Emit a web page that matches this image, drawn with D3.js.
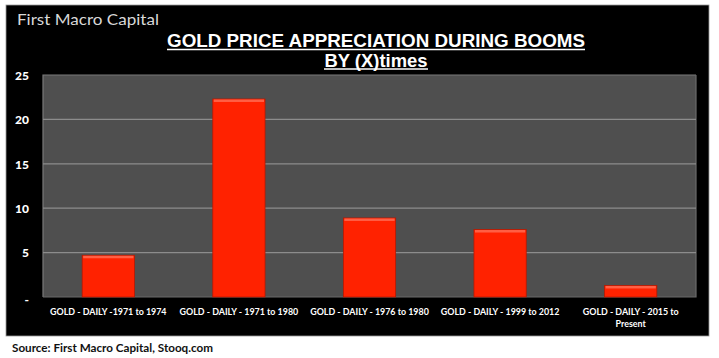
<!DOCTYPE html>
<html><head><meta charset="utf-8">
<script src="https://cdn.jsdelivr.net/npm/d3@7"></script>
<style>
html,body{margin:0;padding:0;background:#fff;}
svg{display:block;}
</style></head>
<body>
<script>
const categories = [
  ["GOLD - DAILY -1971 to 1974"],
  ["GOLD - DAILY - 1971 to 1980"],
  ["GOLD - DAILY - 1976 to 1980"],
  ["GOLD - DAILY - 1999 to 2012"],
  ["GOLD - DAILY - 2015 to", "Present"]
];
const values = [4.7, 22.3, 8.9, 7.6, 1.3];
const yTicks = [0, 5, 10, 15, 20, 25];
const yTickLabels = ["-", "5", "10", "15", "20", "25"];
const titleLines = ["GOLD PRICE APPRECIATION DURING BOOMS", "BY (X)times"];
const brand = "First Macro Capital";
const source = "Source: First Macro Capital, Stooq.com";

const W = 719, H = 358;
const svg = d3.select("body").append("svg").attr("width", W).attr("height", H);

// black panel
svg.append("rect").attr("x", 6).attr("y", 5).attr("width", 703).attr("height", 331)
  .attr("fill", "#000").attr("stroke", "#9a9a9a").attr("stroke-width", 0.8);

const plot = {left: 43, right: 696, top: 75, bottom: 297};
const x = d3.scaleBand().domain(d3.range(categories.length)).range([plot.left, plot.right]).padding(0);
const y = d3.scaleLinear().domain([0, 25]).range([plot.bottom, plot.top]);

// plot background
svg.append("rect").attr("x", plot.left).attr("y", plot.top)
  .attr("width", plot.right - plot.left).attr("height", plot.bottom - plot.top)
  .attr("fill", "#4f4f4f");
svg.append("path").attr("d", `M${plot.left},${plot.bottom}V${plot.top}H${plot.right}`)
  .attr("fill", "none").attr("stroke", "#7a7a7a").attr("stroke-width", 1.2);
svg.append("path").attr("d", `M${plot.left},${plot.bottom}H${plot.right}V${plot.top}`)
  .attr("fill", "none").attr("stroke", "#6a6a6a").attr("stroke-width", 1.2);

// gridlines
svg.append("g").selectAll("line").data(yTicks.filter(d => d > 0 && d < 25)).join("line")
  .attr("x1", plot.left).attr("x2", plot.right)
  .attr("y1", d => y(d)).attr("y2", d => y(d))
  .attr("stroke", "#8c8c8c").attr("stroke-width", 1.2);

// y axis
const yAxis = d3.axisLeft(y).tickValues(yTicks).tickFormat((d, i) => yTickLabels[i]).tickSize(0).tickPadding(0);
const gy = svg.append("g").attr("transform", `translate(29,0)`).call(yAxis);
gy.select(".domain").remove();
gy.selectAll("text").attr("fill", "#fff").attr("font-family", "Lato, 'Open Sans', sans-serif")
  .attr("font-weight", "900").attr("font-size", 12)
  .attr("dy", (d) => d === 0 ? "0.55em" : "0.35em");

// bars
const bw = x.bandwidth() * 0.4;
const bars = svg.append("g").selectAll("g").data(values).join("g");
bars.append("rect")
  .attr("x", (d, i) => x(i) + (x.bandwidth() - bw) / 2)
  .attr("y", d => y(d))
  .attr("width", bw).attr("height", d => y(0) - y(d))
  .attr("fill", "#ff2200").attr("stroke", "#b81800").attr("stroke-width", 0.8);
bars.append("rect")
  .attr("x", (d, i) => x(i) + (x.bandwidth() - bw) / 2 + 1)
  .attr("y", d => y(d) + 0.5)
  .attr("width", bw - 2).attr("height", 2.5)
  .attr("fill", "#ff6a50").attr("opacity", 0.85);

// x labels
const xl = svg.append("g");
categories.forEach((lines, i) => {
  const t = xl.append("text").attr("x", x(i) + x.bandwidth() / 2).attr("y", 315)
    .attr("text-anchor", "middle").attr("fill", "#fff")
    .attr("font-family", "Lato, 'Open Sans', sans-serif").attr("font-weight", "bold").attr("font-size", 8.9);
  lines.forEach((l, j) => t.append("tspan").attr("x", x(i) + x.bandwidth() / 2).attr("dy", j === 0 ? 0 : 12).text(l));
});

// title
const tg = svg.append("g").attr("fill", "#fff").attr("font-family", "Arial, 'Liberation Sans', sans-serif").attr("font-weight", "bold");
tg.append("text").attr("x", 376).attr("y", 47).attr("text-anchor", "middle").attr("font-size", 18.5)
  .attr("textLength", 418).attr("lengthAdjust", "spacingAndGlyphs").text(titleLines[0]);
tg.append("text").attr("x", 376).attr("y", 66.5).attr("text-anchor", "middle").attr("font-size", 18.5)
  .attr("textLength", 103).attr("lengthAdjust", "spacingAndGlyphs").text(titleLines[1]);
[[167, 585, 49.5], [324, 428, 69]].forEach(([a, b, yy]) =>
  svg.append("line").attr("x1", a).attr("x2", b).attr("y1", yy).attr("y2", yy).attr("stroke", "#fff").attr("stroke-width", 1.3));

// brand
svg.append("text").attr("x", 17).attr("y", 25).attr("fill", "#d8d8d8")
  .attr("font-family", "Lato, 'Open Sans', sans-serif").attr("font-size", 16)
  .attr("textLength", 142).attr("lengthAdjust", "spacingAndGlyphs").text(brand);

// source
svg.append("text").attr("x", 12).attr("y", 352).attr("fill", "#111")
  .attr("font-family", "Lato, 'Open Sans', sans-serif").attr("font-weight", "bold").attr("font-size", 12)
  .attr("textLength", 201).attr("lengthAdjust", "spacingAndGlyphs").text(source);
</script>
</body></html>
